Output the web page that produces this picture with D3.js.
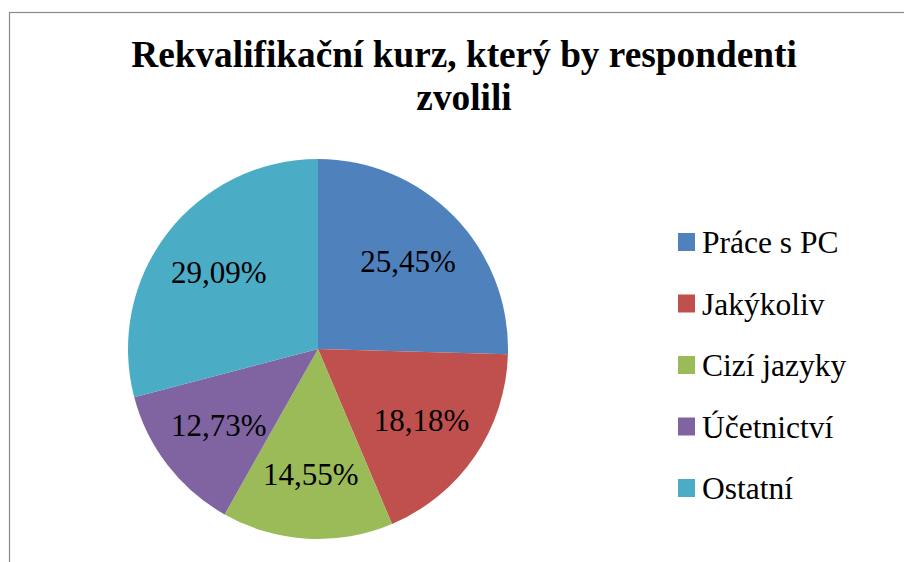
<!DOCTYPE html>
<html>
<head>
<meta charset="utf-8">
<script src="https://cdn.jsdelivr.net/npm/d3@7"></script>
<style>
  body { margin: 0; background: #fff; }
  svg { display: block; }
</style>
</head>
<body>
<div id="chart"></div>
<script>
const categories = ["Práce s PC", "Jakýkoliv", "Cizí jazyky", "Účetnictví", "Ostatní"];
const values = [25.45, 18.18, 14.55, 12.73, 29.09];
const colors = ["#4f81bd", "#c0504d", "#9bbb59", "#8064a2", "#4bacc6"];
const titleLines = ["Rekvalifikační kurz, který by respondenti", "zvolili"];

const width = 904, height = 562;
const cx = 318, cy = 349, radius = 190;
const serif = "Liberation Serif";

const svg = d3.select("#chart")
  .append("svg")
  .attr("width", width)
  .attr("height", height);

// frame
svg.append("rect")
  .attr("x", 9.5)
  .attr("y", 12.5)
  .attr("width", width)
  .attr("height", height)
  .attr("fill", "none")
  .attr("stroke", "#8a8a8a")
  .attr("stroke-width", 1.2);

// title
svg.append("text")
  .attr("text-anchor", "middle")
  .style("font-family", serif)
  .style("font-weight", "bold")
  .style("font-size", "37.3px")
  .selectAll("tspan")
  .data(titleLines)
  .enter()
  .append("tspan")
  .attr("x", 464)
  .attr("y", (d, i) => 67 + i * 42.5)
  .text(d => d);

const data = categories.map((c, i) => ({ name: c, value: values[i], color: colors[i] }));

const pie = d3.pie()
  .value(d => d.value)
  .sort(null);

const arc = d3.arc()
  .innerRadius(0)
  .outerRadius(radius);

const labelArc = d3.arc()
  .innerRadius(radius * 0.66)
  .outerRadius(radius * 0.66);

const g = svg.append("g")
  .attr("transform", `translate(${cx},${cy})`);

const arcs = pie(data);

g.selectAll("path")
  .data(arcs)
  .enter()
  .append("path")
  .attr("d", arc)
  .attr("fill", d => d.data.color);

const fmt = v => v.toFixed(2).replace(".", ",") + "%";

g.selectAll("text.label")
  .data(arcs)
  .enter()
  .append("text")
  .attr("class", "label")
  .attr("transform", d => `translate(${labelArc.centroid(d)})`)
  .attr("text-anchor", "middle")
  .attr("dy", "0.35em")
  .style("font-family", serif)
  .style("font-size", "31px")
  .attr("fill", "#000")
  .text(d => fmt(d.data.value));

// Legend
const legend = svg.append("g")
  .attr("transform", "translate(678,253)");

const item = legend.selectAll("g")
  .data(data)
  .enter()
  .append("g")
  .attr("transform", (d, i) => `translate(0,${i * 61.5})`);

item.append("rect")
  .attr("x", 0)
  .attr("y", -20)
  .attr("width", 17)
  .attr("height", 18)
  .attr("fill", d => d.color);

item.append("text")
  .attr("x", 24)
  .attr("y", 0)
  .style("font-family", serif)
  .style("font-size", "31.5px")
  .attr("fill", "#000")
  .text(d => d.name);
</script>
</body>
</html>
